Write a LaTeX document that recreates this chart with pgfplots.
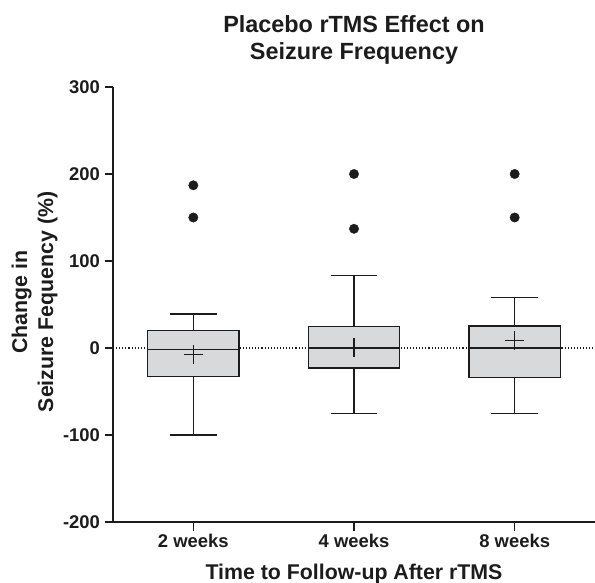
\documentclass[border=0pt]{standalone}
\usepackage{fontspec}
\setmainfont{Liberation Sans}
\usepackage{pgfplots}
\pgfplotsset{compat=1.18}
\definecolor{boxgray}{RGB}{216,217,219}
\definecolor{ink}{RGB}{28,28,28}
\begin{document}
\begin{tikzpicture}
\useasboundingbox (0,0) rectangle (595bp,583bp);
\begin{axis}[
  at={(113bp,61bp)}, anchor=south west,
  scale only axis, width=482bp, height=435bp,
  xmin=0.5, xmax=3.5, ymin=-200, ymax=300,
  axis x line*=bottom, axis y line*=left,
  axis line style={line width=1.7bp, ink, -},
  xtick={1,2,3}, xticklabels={2 weeks,4 weeks,8 weeks},
  ytick={-200,-100,0,100,200,300},
  yticklabels={-200,-100,0,100,200,300},
  tick align=outside, major tick length=8.5bp,
  tick style={line width=1.6bp, ink},
  ticklabel style={font=\fontsize{18.5}{20}\selectfont\bfseries, text=ink},
  yticklabel style={xshift=-1bp},
  clip=false,
  unbounded coords=jump,
]
\addplot[dotted, line width=1.1bp, ink] coordinates {(0.5,0) (3.5,0)};

% whiskers and caps (segments separated by nan)
\addplot[ink, line width=1.3bp] coordinates {
  (1,20) (1,39) (nan,nan) (0.855,39) (1.145,39) (nan,nan)
  (1,-33) (1,-100) (nan,nan) (0.855,-100) (1.145,-100) (nan,nan)
  (2,25) (2,83) (nan,nan) (1.855,83) (2.145,83) (nan,nan)
  (2,-23) (2,-75) (nan,nan) (1.855,-75) (2.145,-75) (nan,nan)
  (3,25.5) (3,58) (nan,nan) (2.855,58) (3.145,58) (nan,nan)
  (3,-34) (3,-75) (nan,nan) (2.855,-75) (3.145,-75)
};
% boxes
\addplot[ink, line width=1.4bp, fill=boxgray] coordinates {(0.715,-33) (1.285,-33) (1.285,20) (0.715,20)} -- cycle;
\addplot[ink, line width=1.4bp, fill=boxgray] coordinates {(1.715,-23) (2.285,-23) (2.285,25) (1.715,25)} -- cycle;
\addplot[ink, line width=1.4bp, fill=boxgray] coordinates {(2.715,-34) (3.285,-34) (3.285,25.5) (2.715,25.5)} -- cycle;
% medians
\addplot[ink, line width=1.3bp] coordinates {(0.715,-2) (1.285,-2) (nan,nan) (1.715,0) (2.285,0) (nan,nan) (2.715,0) (3.285,0)};

% outliers
\addplot[only marks, mark=*, mark size=4.7bp, mark options={fill=ink, draw=ink}]
  coordinates {(1,187) (1,150) (2,200) (2,137) (3,200) (3,150)};
% means
\addplot[only marks, mark=+, mark size=9.5bp, line width=1.3bp, ink] coordinates {(1,-7.6) (2,0.8) (3,8.4)};
\end{axis}
\node[font=\fontsize{23.5}{27}\selectfont\bfseries, anchor=base, text=ink] at (354bp,550bp) {Placebo rTMS Effect on};
\node[font=\fontsize{23.5}{27}\selectfont\bfseries, anchor=base, text=ink] at (354bp,523bp) {Seizure Frequency};
\node[font=\fontsize{21.4}{24}\selectfont\bfseries, anchor=base, text=ink] at (354bp,4bp) {Time to Follow-up After rTMS};
\node[font=\fontsize{21.4}{24}\selectfont\bfseries, anchor=base, rotate=90, text=ink] at (27bp,281bp) {Change in};
\node[font=\fontsize{21.4}{24}\selectfont\bfseries, anchor=base, rotate=90, text=ink] at (53bp,281bp) {Seizure Fequency (\%)};
\end{tikzpicture}
\end{document}
